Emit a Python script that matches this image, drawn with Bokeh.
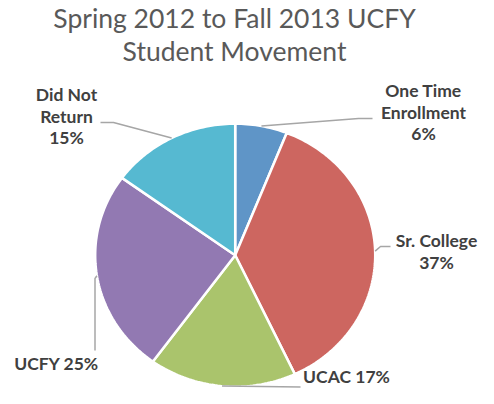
import math
from bokeh.plotting import figure
from bokeh.models import Range1d, ColumnDataSource
from bokeh.core.properties import value
from bokeh.embed import file_html
from bokeh.resources import INLINE

# ---- data ----
categories = ["One Time Enrollment", "Sr. College", "UCAC", "UCFY", "Did Not Return"]
percents = [6, 37, 17, 25, 15]
colors = ["#5F95C7", "#CD6660", "#AAC46C", "#9279B2", "#56B9D1"]
label_lines = [["One Time", "Enrollment", "6%"],
               ["Sr. College", "37%"],
               ["UCAC 17%"],
               ["UCFY 25%"],
               ["Did Not", "Return", "15%"]]
title_lines = ["Spring 2012 to Fall 2013 UCFY", "Student Movement"]

# ---- layout (pixel coordinates) ----
W, H = 478, 388
CX, CY, RX, RY = 234.7, 254.7, 140.0, 131.5
LABEL_FS, TITLE_FS = 17.5, 26.5
label_pos = [(423, 96.7), (436, 246.7), (346, 383), (56, 370), (66, 100.7)]
line_gap = 21.5
title_x = 234
title_base = [28, 60.5]
leader_pts = [[(358, 118), (372, 118)],
              [(380, 246), (390, 246)],
              [(300, 386.5)],
              [(94.5, 278), (94.5, 350)],
              [(113, 122), (100, 122)]]
BASE_FIX = 0.38  # em; the renderer draws the alphabetic baseline this much lower

p = figure(width=W, height=H, output_backend="svg", toolbar_location=None,
           x_range=Range1d(0, W), y_range=Range1d(H, 0), min_border=0)
p.axis.visible = False
p.grid.visible = False
p.outline_line_color = None
p.background_fill_color = "white"

total = sum(percents)
xs, ys, mids = [], [], []
cum = 0.0
for v in percents:
    a0 = cum / total * 2 * math.pi
    a1 = (cum + v) / total * 2 * math.pi
    n = max(8, int(v * 3))
    px, py = [CX], [CY]
    for i in range(n + 1):
        a = a0 + (a1 - a0) * i / n
        px.append(CX + RX * math.sin(a))
        py.append(CY - RY * math.cos(a))
    xs.append(px); ys.append(py)
    am = (a0 + a1) / 2
    mids.append((CX + RX * math.sin(am), CY - RY * math.cos(am)))
    cum += v

src = ColumnDataSource(dict(xs=xs, ys=ys, color=colors, cat=categories))
p.patches("xs", "ys", fill_color="color", line_color="white", line_width=2.5, source=src)

lx, ly = [], []
for (mx, my), pts in zip(mids, leader_pts):
    lx.append([mx] + [q[0] for q in pts])
    ly.append([my] + [q[1] for q in pts])
p.multi_line(lx, ly, line_color="#A6A6A6", line_width=1.5)

tx, ty, tt = [], [], []
for (x, y), lines in zip(label_pos, label_lines):
    for i, s in enumerate(lines):
        tx.append(x); ty.append(y + i * line_gap - BASE_FIX * LABEL_FS); tt.append(s)
p.text(tx, ty, text=tt, text_font=value("Lato"), text_font_style="bold",
       text_font_size=f"{LABEL_FS}px", text_color="#404040", text_align="center",
       text_baseline="alphabetic")

p.text([title_x] * len(title_lines), [b - BASE_FIX * TITLE_FS for b in title_base],
       text=title_lines, text_font=value("Lato"), text_font_size=f"{TITLE_FS}px",
       text_color="#595959", text_align="center", text_baseline="alphabetic")

open("out.html", "w").write(file_html(p, INLINE))
